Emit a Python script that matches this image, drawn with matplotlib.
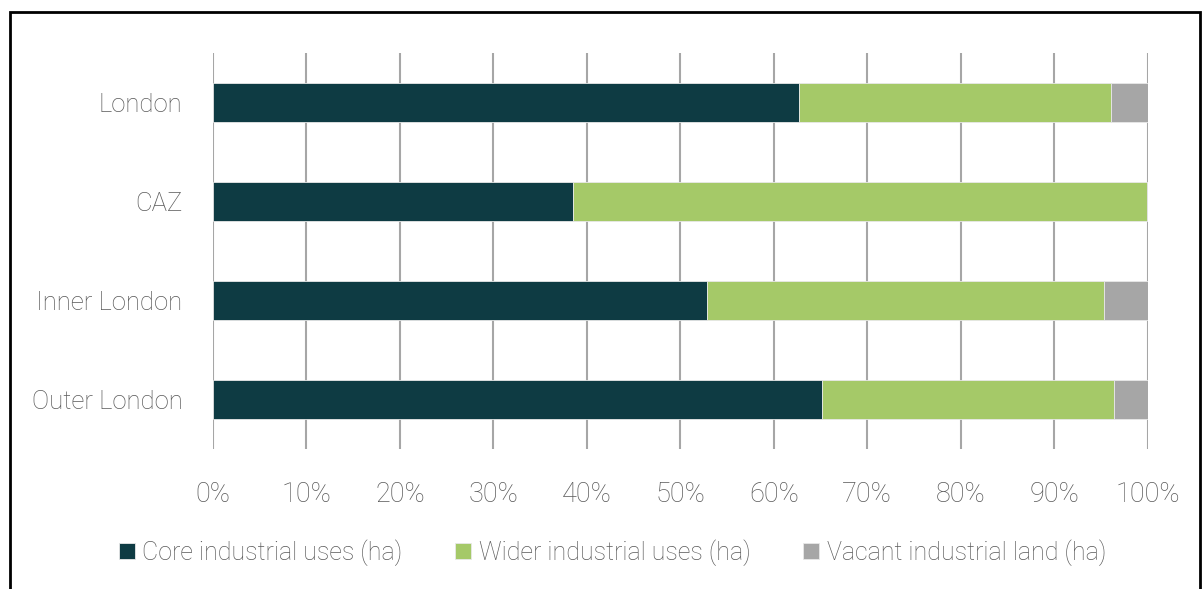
import matplotlib.pyplot as plt
from matplotlib.patches import Rectangle
from matplotlib.ticker import PercentFormatter

# Shares of industrial land by area (%)
areas = ["London", "CAZ", "Inner London", "Outer London"]
core = [62.7, 38.5, 52.9, 65.2]
wider = [33.4, 61.4, 42.4, 31.2]
vacant = [3.9, 0.1, 4.7, 3.6]
series_names = ["Core industrial uses (ha)", "Wider industrial uses (ha)",
                "Vacant industrial land (ha)"]
colors = ["#0e3b43", "#a5c968", "#a6a6a6"]

plt.rcParams["font.family"] = ["Roboto", "DejaVu Sans"]
plt.rcParams["font.weight"] = "light"
text_color = "#595959"
fsize = 18.5

fig = plt.figure(figsize=(12.03, 5.89), dpi=100)
ax = fig.add_axes([0.177, 0.238, 0.777, 0.672])

ypos = list(range(len(areas)))
left = [0.0] * len(areas)
for name, vals, col in zip(series_names, [core, wider, vacant], colors):
    ax.barh(ypos, vals, left=left, height=0.4, color=col, label=name,
            edgecolor="#e8e8e8", linewidth=0.6, zorder=3)
    left = [l + v for l, v in zip(left, vals)]

ax.set_xlim(0, 100)
ax.set_ylim(3.5, -0.5)
ax.set_xticks(range(0, 101, 10))
ax.xaxis.set_major_formatter(PercentFormatter(decimals=0))
ax.set_yticks(ypos)
ax.set_yticklabels(areas)
ax.grid(axis="x", color="#a6a6a6", linewidth=1.5, zorder=0)
for s in ax.spines.values():
    s.set_visible(False)
ax.tick_params(axis="both", length=0, labelsize=fsize, colors=text_color)
ax.tick_params(axis="x", labelsize=19.5, pad=23)
ax.tick_params(axis="y", pad=22)

leg = fig.legend(loc="center", bbox_to_anchor=(0.509, 0.062), ncol=3,
                 frameon=False, fontsize=18, handlelength=0.65,
                 handleheight=0.65, handletextpad=0.3, columnspacing=2.1)
for t in leg.get_texts():
    t.set_color(text_color)

# frame around the figure
fig.patches.append(Rectangle((10 / 1203, -0.1), 1190 / 1203, 1.1 - 12 / 589,
                             transform=fig.transFigure, fill=False,
                             edgecolor="black", linewidth=2))

fig.savefig("out.png", dpi=100)
